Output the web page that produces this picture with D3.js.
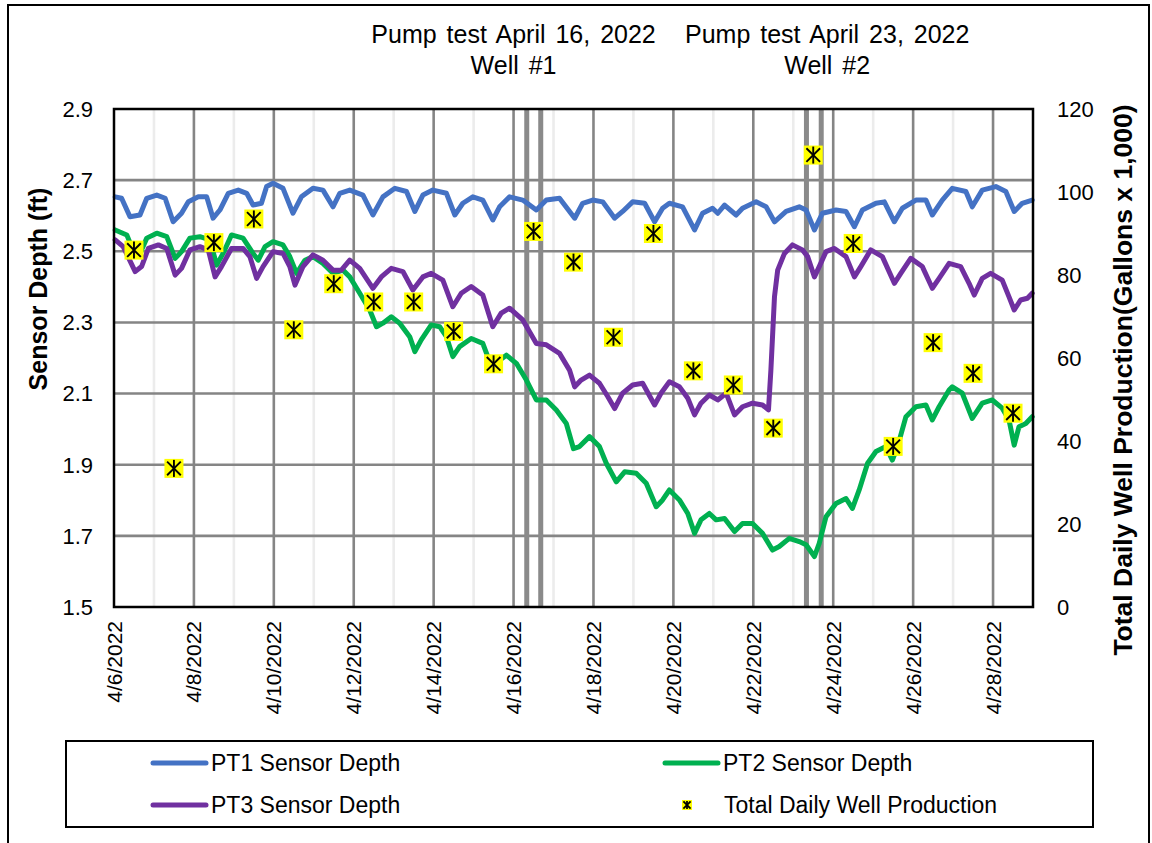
<!DOCTYPE html>
<html>
<head>
<meta charset="utf-8">
<script src="https://cdn.jsdelivr.net/npm/d3@7"></script>
<style>
  body { margin: 0; background: #fff; }
  text { font-family: "Liberation Sans", Arial, sans-serif; fill: #000; }
</style>
</head>
<body>
<div id="chart"></div>
<script>
// days are counted from 4/6/2022 00:00
var pt1Days = [0.03,0.19,0.40,0.65,0.82,1.07,1.28,1.48,1.69,1.86,2.11,2.32,2.48,2.65,2.86,3.11,3.32,3.48,3.69,3.82,3.98,4.23,4.48,4.69,4.98,5.23,5.48,5.65,5.90,6.23,6.48,6.73,7.03,7.32,7.53,7.73,7.98,8.32,8.53,8.73,8.98,9.23,9.48,9.65,9.90,10.23,10.57,10.82,11.15,11.53,11.73,11.98,12.23,12.53,12.73,12.98,13.28,13.53,13.73,13.90,14.23,14.53,14.73,14.98,15.11,15.28,15.57,15.73,16.07,16.32,16.53,16.82,17.15,17.32,17.53,17.73,18.07,18.32,18.53,18.73,19.07,19.28,19.53,19.73,20.07,20.32,20.48,20.73,20.98,21.32,21.48,21.73,22.07,22.32,22.53,22.73,22.98];
var pt1Depth = [2.653,2.649,2.597,2.602,2.649,2.658,2.649,2.583,2.607,2.639,2.653,2.653,2.593,2.616,2.663,2.672,2.663,2.630,2.635,2.682,2.691,2.677,2.607,2.653,2.677,2.672,2.625,2.663,2.672,2.658,2.602,2.653,2.677,2.668,2.612,2.658,2.672,2.663,2.602,2.635,2.653,2.644,2.588,2.625,2.653,2.644,2.616,2.644,2.649,2.593,2.635,2.644,2.639,2.593,2.612,2.639,2.635,2.583,2.621,2.635,2.625,2.560,2.607,2.621,2.607,2.630,2.602,2.621,2.639,2.625,2.583,2.612,2.625,2.616,2.560,2.607,2.616,2.612,2.569,2.616,2.635,2.639,2.583,2.621,2.644,2.644,2.602,2.644,2.677,2.668,2.625,2.672,2.682,2.668,2.612,2.635,2.644];

var pt2Days = [0.03,0.32,0.44,0.65,0.82,1.07,1.32,1.53,1.69,1.90,2.15,2.40,2.57,2.73,2.94,3.23,3.48,3.61,3.78,3.98,4.23,4.40,4.57,4.78,4.98,5.23,5.48,5.73,5.90,6.15,6.40,6.57,6.73,6.94,7.15,7.40,7.53,7.69,7.94,8.15,8.32,8.48,8.65,8.94,9.23,9.48,9.65,9.82,10.07,10.32,10.57,10.82,11.07,11.32,11.50,11.65,11.90,12.15,12.32,12.57,12.78,13.07,13.32,13.57,13.73,13.90,14.15,14.36,14.53,14.69,14.90,15.07,15.28,15.53,15.73,15.98,16.23,16.48,16.65,16.90,17.15,17.32,17.53,17.65,17.82,18.07,18.32,18.48,18.65,18.86,19.07,19.32,19.48,19.61,19.82,20.07,20.32,20.48,20.65,20.90,20.98,21.23,21.48,21.73,21.98,22.23,22.40,22.53,22.65,22.82,22.98];
var pt2Depth = [2.560,2.546,2.513,2.494,2.537,2.551,2.541,2.480,2.499,2.537,2.541,2.532,2.461,2.494,2.546,2.537,2.494,2.475,2.513,2.527,2.518,2.485,2.438,2.475,2.485,2.466,2.438,2.447,2.428,2.382,2.335,2.288,2.298,2.316,2.298,2.260,2.218,2.251,2.293,2.288,2.260,2.204,2.232,2.255,2.241,2.166,2.194,2.208,2.185,2.138,2.082,2.082,2.054,2.016,1.945,1.951,1.979,1.951,1.904,1.852,1.880,1.876,1.848,1.782,1.801,1.829,1.801,1.763,1.707,1.745,1.763,1.745,1.749,1.712,1.735,1.735,1.707,1.660,1.670,1.693,1.684,1.675,1.642,1.679,1.754,1.791,1.805,1.777,1.829,1.904,1.937,1.951,1.913,1.951,2.035,2.063,2.068,2.026,2.063,2.110,2.119,2.101,2.030,2.073,2.082,2.059,2.026,1.955,2.007,2.016,2.035];

var pt3Days = [0.03,0.23,0.53,0.69,0.86,1.11,1.32,1.53,1.69,1.90,2.15,2.36,2.53,2.69,2.94,3.23,3.40,3.57,3.73,3.98,4.23,4.40,4.53,4.73,4.98,5.23,5.48,5.69,5.90,6.15,6.48,6.69,6.94,7.23,7.48,7.73,7.94,8.23,8.48,8.69,8.94,9.23,9.48,9.69,9.90,10.23,10.57,10.82,11.15,11.40,11.53,11.69,11.90,12.15,12.36,12.53,12.73,12.98,13.23,13.53,13.69,13.90,14.15,14.36,14.53,14.69,14.90,15.11,15.32,15.53,15.73,15.98,16.23,16.38,16.44,16.53,16.61,16.78,16.98,17.23,17.36,17.53,17.65,17.82,18.03,18.32,18.53,18.69,18.94,19.23,19.53,19.69,19.94,20.23,20.48,20.65,20.90,21.19,21.40,21.53,21.73,21.94,22.23,22.40,22.53,22.69,22.86,22.98];
var pt3Depth = [2.532,2.513,2.443,2.457,2.508,2.518,2.508,2.433,2.452,2.504,2.513,2.504,2.428,2.457,2.508,2.508,2.485,2.424,2.457,2.499,2.494,2.457,2.405,2.457,2.490,2.475,2.447,2.447,2.475,2.452,2.396,2.428,2.452,2.443,2.391,2.428,2.438,2.419,2.344,2.382,2.401,2.377,2.288,2.326,2.340,2.307,2.241,2.237,2.213,2.166,2.119,2.138,2.152,2.129,2.091,2.058,2.101,2.124,2.129,2.068,2.101,2.133,2.119,2.087,2.040,2.073,2.096,2.082,2.101,2.040,2.063,2.073,2.068,2.054,2.166,2.372,2.447,2.494,2.518,2.504,2.485,2.428,2.457,2.499,2.508,2.485,2.428,2.457,2.504,2.485,2.410,2.438,2.480,2.457,2.396,2.424,2.466,2.457,2.410,2.377,2.424,2.438,2.419,2.372,2.335,2.363,2.368,2.382];

// total daily well production, one value per day (4/6 .. 4/28), thousand gallons
var prodDays = [0.5,1.5,2.5,3.5,4.5,5.5,6.5,7.5,8.5,9.5,10.5,11.5,12.5,13.5,14.5,15.5,16.5,17.5,18.5,19.5,20.5,21.5,22.5];
var prodValues = [86.0,33.4,87.8,93.5,66.8,77.9,73.5,73.5,66.4,58.6,90.5,83.1,65.0,90.0,56.9,53.5,43.1,108.9,87.6,38.7,63.7,56.3,46.7];

// pump test start/stop markers (days from 4/6)
var pumpDays = [10.33, 10.68, 17.33, 17.70];

var leftTicks = [1.5, 1.7, 1.9, 2.1, 2.3, 2.5, 2.7, 2.9];
var rightTicks = [0, 20, 40, 60, 80, 100, 120];

var seriesNames = ["PT1 Sensor Depth", "PT2 Sensor Depth", "PT3 Sensor Depth", "Total Daily Well Production"];
var colors = ["#4472C4", "#00B050", "#7030A0"];

var W = 1152, H = 843;
var margin = {top: 109, left: 114, right: 119, bottom: 236};
var plotW = W - margin.left - margin.right,
    plotH = H - margin.top - margin.bottom;

var start = new Date(2022, 3, 6);
function toDate(d) { return new Date(start.getTime() + d * 86400000); }

var x = d3.scaleTime().domain([start, new Date(2022, 3, 29)]).range([0, plotW]);
var y = d3.scaleLinear().domain([1.5, 2.9]).range([plotH, 0]);
var y2 = d3.scaleLinear().domain([0, 120]).range([plotH, 0]);

var svg = d3.select("#chart").append("svg")
    .attr("width", W)
    .attr("height", H);

// outer frame
svg.append("rect")
    .attr("x", 8).attr("y", 5)
    .attr("width", 1141).attr("height", 850)
    .attr("fill", "none")
    .attr("stroke", "#000")
    .attr("stroke-width", 2);

// titles
var titles = [
    {day: 10, lines: ["Pump test April 16, 2022", "Well #1"]},
    {day: 17.85, lines: ["Pump test April 23, 2022", "Well #2"]}
];
titles.forEach(function (t) {
    var cx = margin.left + x(toDate(t.day));
    t.lines.forEach(function (l, i) {
        svg.append("text")
            .attr("x", cx)
            .attr("y", 43 + i * 31)
            .attr("text-anchor", "middle")
            .style("font-size", "25px")
            .style("word-spacing", "3px")
            .text(l);
    });
});

var chart = svg.append("g")
    .attr("transform", "translate(" + margin.left + "," + margin.top + ")");

// vertical grid: light on odd days, dark on even
var days = d3.timeDay.range(start, new Date(2022, 3, 29));
chart.selectAll(".vgrid")
    .data(days.slice(1))
    .enter().append("line")
    .attr("x1", function (d) { return x(d); })
    .attr("x2", function (d) { return x(d); })
    .attr("y1", 0).attr("y2", plotH)
    .attr("stroke", function (d, i) { return i % 2 === 0 ? "#ececec" : "#858585"; })
    .attr("stroke-width", 2.6);

// horizontal grid
chart.selectAll(".hgrid")
    .data(leftTicks.slice(1, -1))
    .enter().append("line")
    .attr("x1", 0).attr("x2", plotW)
    .attr("y1", function (d) { return y(d); })
    .attr("y2", function (d) { return y(d); })
    .attr("stroke", "#858585")
    .attr("stroke-width", 2.6);

// pump test bars
chart.selectAll(".pump")
    .data(pumpDays)
    .enter().append("line")
    .attr("x1", function (d) { return x(toDate(d)); })
    .attr("x2", function (d) { return x(toDate(d)); })
    .attr("y1", 0).attr("y2", plotH)
    .attr("stroke", "#8a8a8a")
    .attr("stroke-width", 5);

// sensor lines
var line = d3.line()
    .x(function (d) { return x(toDate(d[0])); })
    .y(function (d) { return y(d[1]); });

var series = [
    d3.zip(pt1Days, pt1Depth),
    d3.zip(pt2Days, pt2Depth),
    d3.zip(pt3Days, pt3Depth)
];
series.forEach(function (s, i) {
    chart.append("path")
        .datum(s)
        .attr("d", line)
        .attr("fill", "none")
        .attr("stroke", colors[i])
        .attr("stroke-width", 5)
        .attr("stroke-linejoin", "round")
        .attr("stroke-linecap", "round");
});

// production markers
function drawMarker(g, size, sw) {
    var h = size / 2, a = size * 0.36;
    g.append("rect")
        .attr("x", -h).attr("y", -h)
        .attr("width", size).attr("height", size)
        .attr("fill", "#FFFF00");
    g.append("line").attr("x1", 0).attr("x2", 0).attr("y1", -h + 1).attr("y2", h - 1)
        .attr("stroke", "#000").attr("stroke-width", sw);
    g.append("line").attr("x1", -a).attr("x2", a).attr("y1", -a).attr("y2", a)
        .attr("stroke", "#000").attr("stroke-width", sw);
    g.append("line").attr("x1", -a).attr("x2", a).attr("y1", a).attr("y2", -a)
        .attr("stroke", "#000").attr("stroke-width", sw);
}
d3.zip(prodDays, prodValues).forEach(function (d) {
    var g = chart.append("g")
        .attr("transform", "translate(" + x(toDate(d[0])) + "," + y2(d[1]) + ")");
    drawMarker(g, 19, 1.9);
});

// plot border
chart.append("rect")
    .attr("width", plotW).attr("height", plotH)
    .attr("fill", "none")
    .attr("stroke", "#000")
    .attr("stroke-width", 2.5);

// left axis labels
chart.selectAll(".ylab")
    .data(leftTicks)
    .enter().append("text")
    .attr("x", -21)
    .attr("y", function (d) { return y(d); })
    .attr("dy", "0.36em")
    .attr("text-anchor", "end")
    .style("font-size", "22px")
    .text(function (d) { return d.toFixed(1); });

// right axis labels
chart.selectAll(".y2lab")
    .data(rightTicks)
    .enter().append("text")
    .attr("x", plotW + 24)
    .attr("y", function (d) { return y2(d); })
    .attr("dy", "0.36em")
    .attr("text-anchor", "start")
    .style("font-size", "22px")
    .text(function (d) { return d; });

// x tick labels (every second day)
var fmt = function (d) { return (d.getMonth() + 1) + "/" + d.getDate() + "/" + d.getFullYear(); };
chart.selectAll(".xlab")
    .data(days.filter(function (d, i) { return i % 2 === 0; }))
    .enter().append("text")
    .attr("transform", function (d) { return "translate(" + x(d) + "," + (plotH + 14) + ") rotate(-90)"; })
    .attr("dy", "0.36em")
    .attr("text-anchor", "end")
    .style("font-size", "21px")
    .text(fmt);

// axis titles
svg.append("text")
    .attr("transform", "translate(38,289) rotate(-90)")
    .attr("dy", "0.36em")
    .attr("text-anchor", "middle")
    .style("font-size", "25px")
    .style("font-weight", "bold")
    .text("Sensor Depth (ft)");

svg.append("text")
    .attr("transform", "translate(1122,380) rotate(-90)")
    .attr("dy", "0.36em")
    .attr("text-anchor", "middle")
    .style("font-size", "26.5px")
    .style("font-weight", "bold")
    .text("Total Daily Well Production(Gallons x 1,000)");

// legend
var legend = svg.append("g");
legend.append("rect")
    .attr("x", 66).attr("y", 741)
    .attr("width", 1027).attr("height", 86)
    .attr("fill", "#fff")
    .attr("stroke", "#000")
    .attr("stroke-width", 2);

var legendPos = [[153, 763], [665, 763], [153, 805], [665, 805]];
seriesNames.forEach(function (name, i) {
    var p = legendPos[i];
    var tx;
    if (i < 3) {
        legend.append("line")
            .attr("x1", p[0]).attr("x2", p[0] + 53)
            .attr("y1", p[1]).attr("y2", p[1])
            .attr("stroke", colors[i])
            .attr("stroke-width", 5)
            .attr("stroke-linecap", "round");
        tx = p[0] + 58;
    } else {
        var g = legend.append("g").attr("transform", "translate(" + (p[0] + 22) + "," + p[1] + ")");
        drawMarker(g, 10, 1.8);
        tx = p[0] + 59;
    }
    legend.append("text")
        .attr("x", tx)
        .attr("y", p[1])
        .attr("dy", "0.36em")
        .style("font-size", "23px")
        .text(name);
});
</script>
</body>
</html>
